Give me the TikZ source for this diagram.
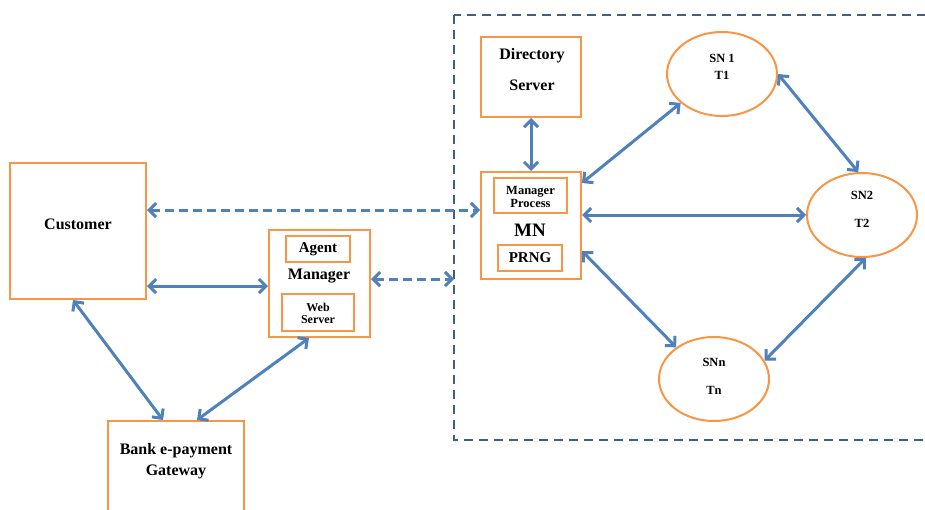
\documentclass[tikz,border=0pt]{standalone}
\usepackage{fontspec}
\setmainfont{Liberation Serif}
\usetikzlibrary{arrows.meta,shapes.geometric}
\definecolor{orng}{HTML}{F79646}
\definecolor{blu}{HTML}{4F81BD}
\definecolor{frm}{HTML}{3C5F8D}
\begin{document}
\begin{tikzpicture}[x=1pt,y=-1pt,
  box/.style={draw=orng,line width=2pt,rectangle,inner sep=0pt},
  oval/.style={draw=orng,line width=2pt,ellipse,inner sep=0pt,minimum width=110pt,minimum height=84pt},
  lbl/.style={inner sep=0pt,align=center,font=\bfseries\fontsize{#1}{#1}\selectfont},
  lbl/.default=16,
  conn/.style={draw=blu,line width=3pt,{Straight Barb[length=7pt,width=14pt]}-{Straight Barb[length=7pt,width=14pt]}},
  dconn/.style={conn,dash pattern=on 9pt off 5pt},
  frame/.style={draw=frm,line width=2pt,dash pattern=on 9pt off 6pt}]
\clip (0,0) rectangle (925,509);
\fill[white] (0,0) rectangle (925,509);
% frame
\draw[frame] (454,15) rectangle (940,440);
\coordinate (frameL) at (454,279);
% customer
\node[box,minimum width=136pt,minimum height=136pt] (cust) at (78,231) {};
\node[lbl] (custL) at (78,224) {Customer};
% agent manager
\node[box,minimum width=101pt,minimum height=107pt] (agent) at (319.5,283.5) {};
\node[box,minimum width=64pt,minimum height=26pt] (agentIn) at (318,249) {};
\node[lbl=15] (agentL) at (318,249) {Agent};
\node[lbl] (mgrL) at (319,276) {Manager};
\node[box,minimum width=72pt,minimum height=37pt] (web) at (318,312.5) {};
\node[lbl=12] (webL) at (318,313) {Web\\[0pt]Server};
% bank
\node[box,minimum width=136pt,minimum height=110pt] (bank) at (176,476) {};
\node[lbl] (bankL) at (176,461) {Bank e-payment\\[5pt]Gateway};
% directory
\node[box,minimum width=100pt,minimum height=80pt] (dir) at (531,77) {};
\node[lbl] (dirL) at (532,70) {Directory\\[15pt]Server};
% MN
\node[box,minimum width=100pt,minimum height=107pt] (mn) at (531,225.5) {};
\node[box,minimum width=73pt,minimum height=35pt] (mproc) at (530.5,195.5) {};
\node[lbl=12.5] (mprocL) at (530.5,197) {Manager\\[0pt]Process};
\node[lbl=19] (mnL) at (530,230) {MN};
\node[box,minimum width=64pt,minimum height=26pt] (prng) at (530,258) {};
\node[lbl=15] (prngL) at (530,258) {PRNG};
% SNs
\node[oval] (sn1) at (722,74) {};
\node[lbl=12.5] (sn1L) at (722,67) {SN 1\\[4pt]T1};
\node[oval] (sn2) at (862,215) {};
\node[lbl=12.5] (sn2L) at (862,209.5) {SN2\\[15pt]T2};
\node[oval] (snn) at (714,379) {};
\node[lbl=12.5] (snnL) at (714,376.5) {SNn\\[15pt]Tn};
% connectors
\draw[dconn] ([yshift=21pt]cust.east) -- ([yshift=15.5pt]mn.west);
\draw[conn] ([yshift=-55pt]cust.east) -- ([yshift=-2.5pt]agent.west);
\draw[dconn] ([yshift=4.5pt]agent.east) -- (frameL);
\draw[conn] ([xshift=-5pt]cust.south) -- ([xshift=-13pt]bank.north);
\draw[conn] ([xshift=-10.5pt]agent.south) -- ([xshift=21pt]bank.north);
\draw[conn] (dir.south) -- (mn.north);
\draw[conn] ([yshift=42.5pt]mn.east) -- (sn1.215);
\draw[conn] ([yshift=10.5pt]mn.east) -- (sn2.west);
\draw[conn] ([yshift=-25.5pt]mn.east) -- (snn.140);
\draw[conn] (sn1.0) -- (sn2.95);
\draw[conn] (sn2.275) -- (snn.20);
\end{tikzpicture}
\end{document}
